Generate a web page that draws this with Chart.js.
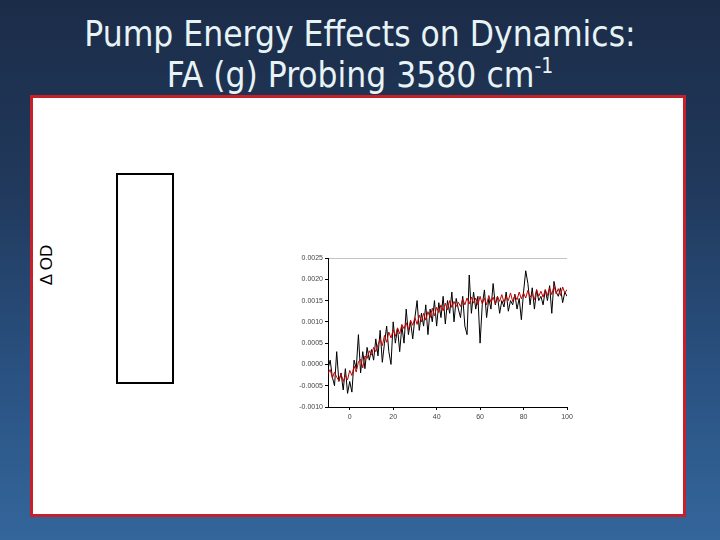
<!DOCTYPE html>
<html>
<head>
<meta charset="utf-8">
<script src="https://cdn.jsdelivr.net/npm/chart.js@4.4.1/dist/chart.umd.min.js"></script>
<style>
  html, body { margin: 0; padding: 0; }
  body {
    width: 720px; height: 540px; overflow: hidden; position: relative;
    background: linear-gradient(to bottom, #1b2c48 0%, #21395c 35%, #2a5282 70%, #34669b 100%);
  }
  #panel {
    position: absolute; left: 30px; top: 95px; width: 656px; height: 422px;
    box-sizing: border-box; border: 3px solid #c8202a; background: #fff;
  }
  #title {
    position: absolute; left: 0; top: 14px; width: 720px; text-align: center;
    color: #e8f3f6; font-family: "DejaVu Sans Condensed", "DejaVu Sans", sans-serif;
    font-size: 35px; line-height: 41px;
  }
  #title sup { font-size: 21px; vertical-align: 14px; line-height: 0; }
  #ylab {
    position: absolute; left: 47px; top: 265px; transform: translate(-50%, -50%) rotate(-90deg);
    font-family: "Liberation Sans", Arial, sans-serif; font-size: 17px; color: #000; white-space: nowrap;
  }
  #box {
    position: absolute; left: 116px; top: 173px; width: 58px; height: 211px;
    box-sizing: border-box; border: 2px solid #000;
  }
  #wrap { position: absolute; left: 270px; top: 240px; width: 320px; height: 190px; }
</style>
</head>
<body>
<div id="panel"></div>
<div id="title">Pump Energy Effects on Dynamics:<br>FA (g) Probing 3580 cm<sup>-1</sup></div>
<div id="ylab">&Delta; OD</div>
<div id="box"></div>
<div id="wrap"><canvas id="chartId"></canvas></div>
<script>
// delay (x), one point per unit from -10 to 100
const delays = [];
for (let t = -10; t <= 100; t++) delays.push(t);

// black trace: raw signal
const rawSignal = [
  -0.00010, 0.00010, -0.00030, -0.00050, 0.00030, -0.00040, -0.00020, -0.00060, -0.00010, -0.00068,
  -0.00040, -0.00065, 0.00010, -0.00010, 0.00070, -0.00020, 0.00030, -0.00010, 0.00040, 0.00010,
  0.00035, 0.00010, 0.00060, 0.00020, 0.00080, 0.00005, 0.00050, 0.00090, 0.00030, 0.00000,
  0.00100, 0.00050, 0.00085, 0.00030, 0.00090, 0.00050, 0.00130, 0.00070, 0.00100, 0.00060,
  0.00110, 0.00150, 0.00080, 0.00120, 0.00090, 0.00140, 0.00070, 0.00130, 0.00100, 0.00150,
  0.00090, 0.00145, 0.00110, 0.00160, 0.00095, 0.00150, 0.00120, 0.00170, 0.00100, 0.00155,
  0.00130, 0.00110, 0.00160, 0.00090, 0.00070, 0.00210, 0.00120, 0.00170, 0.00130, 0.00160,
  0.00050, 0.00140, 0.00175, 0.00110, 0.00155, 0.00130, 0.00190, 0.00140, 0.00160, 0.00120,
  0.00150, 0.00135, 0.00170, 0.00125, 0.00150, 0.00140, 0.00165, 0.00130, 0.00155, 0.00105,
  0.00170, 0.00220, 0.00190, 0.00140, 0.00180, 0.00130, 0.00175, 0.00150, 0.00160, 0.00140,
  0.00175, 0.00150, 0.00185, 0.00120, 0.00195, 0.00170, 0.00160, 0.00180, 0.00145, 0.00170,
  0.00160
];

// red trace: averaged signal
const avgSignal = [
  -0.00022, -0.00012, -0.00032, -0.00018, -0.00030, -0.00038, -0.00022, -0.00040, -0.00026, -0.00036,
  -0.00014, -0.00026, -0.00004, -0.00018, 0.00006, 0.00012, -0.00008, 0.00020, 0.00014, 0.00032,
  0.00022, 0.00040, 0.00030, 0.00046, 0.00060, 0.00044, 0.00068, 0.00052, 0.00076, 0.00062,
  0.00082, 0.00066, 0.00086, 0.00072, 0.00094, 0.00084, 0.00098, 0.00080, 0.00104, 0.00092,
  0.00110, 0.00094, 0.00116, 0.00100, 0.00120, 0.00104, 0.00124, 0.00110, 0.00132, 0.00114,
  0.00134, 0.00122, 0.00140, 0.00126, 0.00144, 0.00128, 0.00150, 0.00134, 0.00148, 0.00136,
  0.00146, 0.00136, 0.00154, 0.00140, 0.00156, 0.00142, 0.00158, 0.00144, 0.00156, 0.00140,
  0.00160, 0.00142, 0.00156, 0.00140, 0.00162, 0.00146, 0.00158, 0.00142, 0.00160, 0.00148,
  0.00164, 0.00146, 0.00160, 0.00150, 0.00168, 0.00148, 0.00162, 0.00152, 0.00170, 0.00154,
  0.00168, 0.00156, 0.00174, 0.00158, 0.00166, 0.00152, 0.00176, 0.00160, 0.00172, 0.00158,
  0.00176, 0.00162, 0.00180, 0.00164, 0.00184, 0.00166, 0.00178, 0.00162, 0.00182, 0.00168,
  0.00176
];

const xTicks = [0, 20, 40, 60, 80, 100];
const yTicks = [-0.0010, -0.0005, 0.0000, 0.0005, 0.0010, 0.0015, 0.0020, 0.0025];

function toPoints(vals) {
  return vals.map((v, i) => ({ x: delays[i], y: v }));
}

const tickFont = { family: 'Liberation Sans', size: 7 };

var chrt = document.getElementById('chartId').getContext('2d');
var chartId = new Chart(chrt, {
  type: 'line',
  data: {
    datasets: [
      { label: 'avg', data: toPoints(avgSignal), borderColor: '#c00000', borderWidth: 1, pointRadius: 0, tension: 0 },
      { label: 'raw', data: toPoints(rawSignal), borderColor: '#000000', borderWidth: 1, pointRadius: 0, tension: 0 }
    ]
  },
  options: {
    responsive: true,
    maintainAspectRatio: false,
    animation: false,
    layout: { padding: { left: 18, top: 18, right: 23, bottom: 3 } },
    plugins: { legend: { display: false }, tooltip: { enabled: false } },
    scales: {
      x: {
        type: 'linear', min: -10, max: 100,
        afterBuildTicks: s => { s.ticks = xTicks.map(v => ({ value: v })); },
        afterFit: s => { s.height = 20; },
        border: { color: '#000', width: 1 },
        grid: { drawOnChartArea: false, tickLength: 3, tickColor: '#000' },
        ticks: { font: tickFont, color: '#444', padding: 3, maxRotation: 0 }
      },
      y: {
        type: 'linear', min: -0.0010, max: 0.0025,
        afterBuildTicks: s => { s.ticks = yTicks.map(v => ({ value: v })); },
        afterFit: s => { s.width = 40; },
        border: { color: '#000', width: 1 },
        grid: {
          color: c => (c.tick && c.tick.value === 0.0025) ? '#c4c4c4' : 'rgba(0,0,0,0)',
          tickColor: '#000', tickLength: 3
        },
        ticks: { font: tickFont, color: '#444', padding: 2, callback: v => v.toFixed(4) }
      }
    }
  }
});
</script>
</body>
</html>
